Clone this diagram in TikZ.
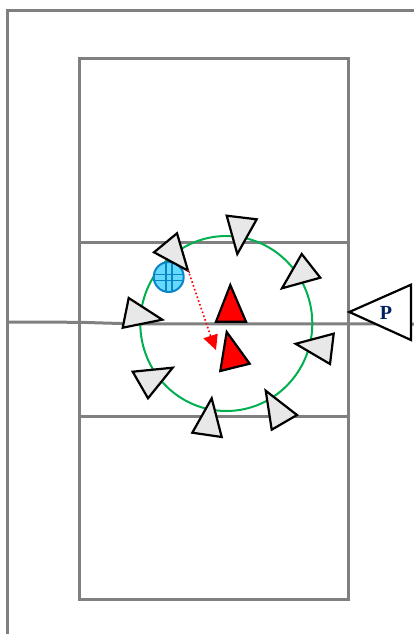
\documentclass[tikz,border=0pt]{standalone}
\usepackage{fontspec}
\setmainfont{Liberation Serif}
\usetikzlibrary{calc}
\definecolor{courtgray}{HTML}{808080}
\definecolor{ringgreen}{HTML}{00B050}
\definecolor{ballblue}{HTML}{66D9FF}
\definecolor{balledge}{HTML}{0B84C6}
\definecolor{navy}{HTML}{002060}
\tikzset{
  courtline/.style={draw=courtgray,line width=3pt},
  player/.style={draw=black,fill=black!9,line width=2.2pt,line join=miter},
  server/.style={draw=black,fill=white,line width=2.2pt,line join=miter},
  redplayer/.style={draw=black,fill=red,line width=2.2pt,line join=miter},
  ballline/.style={draw=balledge,line width=1.6pt}
}
\begin{document}
\begin{tikzpicture}[x=1pt,y=-1pt]
\useasboundingbox (0,0) rectangle (414,634);
% court
\draw[courtline] (7.5,634) -- (7.5,11) -- (414,11);
\draw[courtline] (79.7,59) rectangle (348.7,599.5);
\draw[courtline] (80,242) -- (349,242);
\draw[courtline] (80,416) -- (349,416);
\draw[courtline] (7,322) -- (80,322.3) -- (130,323.8) -- (414,324);
% ring
\draw[ringgreen,line width=2pt] (226.3,323.5) ellipse [x radius=86, y radius=87.5];
% ball
\coordinate (bc) at (168.7,277);
\fill[ballblue] (bc) circle (15);
\begin{scope}
\clip (bc) circle (15);
\draw[ballline] (153,274.5) -- (185,274.5);
\draw[ballline] (153,280.5) -- (185,280.5);
\draw[ballline] (166,261) -- (166,293);
\draw[ballline] (172,261) -- (172,293);
\end{scope}
\draw[balledge,line width=2pt] (bc) circle (15);
% grey players
\draw[player] (177,233.3) -- (154,252.3) -- (188,270.7) -- cycle;
\draw[player] (226.7,215.7) -- (256.7,219.3) -- (237.3,254) -- cycle;
\draw[player] (128.7,298) -- (122.7,327.7) -- (162.3,319.7) -- cycle;
\draw[player] (301.7,254) -- (320.3,277.7) -- (282,288.3) -- cycle;
\draw[player] (295.7,343.8) -- (333.7,333.7) -- (330,364) -- cycle;
\draw[player] (132.7,371.7) -- (172.7,367.7) -- (148,398.3) -- cycle;
\draw[player] (211.7,398.3) -- (192.3,432.7) -- (221.7,437) -- cycle;
\draw[player] (265.7,390.7) -- (297,415) -- (271.7,429.7) -- cycle;
% red players
\draw[redplayer] (230.3,285) -- (216,321.7) -- (246,321.7) -- cycle;
\draw[redplayer] (226.7,332) -- (249.7,363.7) -- (220.3,371) -- cycle;
% server
\draw[server] (349.3,312) -- (411,284.7) -- (411,340) -- cycle;
\node[inner sep=0pt,text=navy,font=\bfseries\fontsize{20}{20}\selectfont] (p) at (386,313) {P};
% move
\coordinate (movestart) at (188,270);
\coordinate (moveend) at (211,337);
\draw[red,line width=1.6pt,dash pattern=on 1.6pt off 2.4pt] (movestart) -- (moveend);
\fill[red] (203.3,338.3) -- (217.7,333.7) -- (216,350) -- cycle;
\end{tikzpicture}
\end{document}
